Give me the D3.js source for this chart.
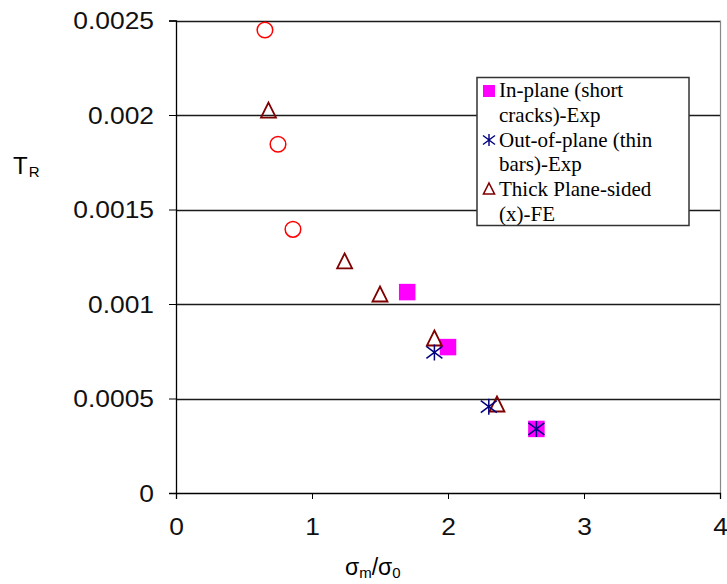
<!DOCTYPE html>
<html><head><meta charset="utf-8">
<script src="https://cdn.jsdelivr.net/npm/d3@7"></script>
<style>body{margin:0;background:#fff}</style>
</head><body>
<svg id="c" width="727" height="584"></svg>
<script>
// Data
const xTicks = [0, 1, 2, 3, 4];
const yTicks = [0, 0.0005, 0.001, 0.0015, 0.002, 0.0025];
const yTickLabels = ["0", "0.0005", "0.001", "0.0015", "0.002", "0.0025"];
const circleX = [0.654, 0.75, 0.86];
const circleY = [0.00245, 0.001845, 0.001395];
const triX = [0.68, 1.24, 1.50, 1.90, 2.36];
const triY = [0.002026, 0.001228, 0.001053, 0.00082, 0.000471];
const squareX = [1.70, 2.00, 2.65];
const squareY = [0.001063, 0.000772, 0.000339];
const starX = [1.90, 2.30, 2.65];
const starY = [0.000744, 0.000457, 0.000339];
const legendLabels = [
  ["In-plane (short", "cracks)-Exp"],
  ["Out-of-plane (thin", "bars)-Exp"],
  ["Thick Plane-sided", "(x)-FE"]
];

const svg = d3.select("#c");
const x = d3.scaleLinear().domain([0, 4]).range([176, 720]);
const y = d3.scaleLinear().domain([0, 0.0025]).range([493, 20.5]);

// gridlines
svg.append("g").selectAll("line").data(yTicks.slice(1)).join("line")
  .attr("x1", x(0)).attr("x2", x(4))
  .attr("y1", d => Math.round(y(d)) + 0.5).attr("y2", d => Math.round(y(d)) + 0.5)
  .attr("stroke", "#1a1a1a").attr("stroke-width", 1.3);
// right border
svg.append("line").attr("x1", x(4) + 0.5).attr("x2", x(4) + 0.5).attr("y1", y(0.0025)).attr("y2", y(0))
  .attr("stroke", "#888").attr("stroke-width", 1.2);

const fontAxis = "'Liberation Sans', Arial, sans-serif";
const sx = 1.1;

// x axis
const gx = svg.append("g").attr("transform", `translate(0,${y(0)})`)
  .call(d3.axisBottom(x).tickValues(xTicks).tickFormat(d3.format("d")).tickSizeOuter(0).tickSize(6));
gx.select(".domain").attr("stroke", "#000").attr("stroke-width", 1.3);
gx.selectAll(".tick line").attr("stroke", "#000");
gx.selectAll(".tick text").attr("font-family", fontAxis).attr("font-size", 24).attr("fill", "#111")
  .attr("y", 0).attr("dy", 0).attr("transform", `translate(0,42) scale(${sx},1)`);

// y axis
const gy = svg.append("g").attr("transform", `translate(${x(0)},0)`)
  .call(d3.axisLeft(y).tickValues(yTicks).tickFormat((d, i) => yTickLabels[i]).tickSizeOuter(0).tickSize(7));
gy.select(".domain").attr("stroke", "#000").attr("stroke-width", 1.3);
gy.selectAll(".tick line").attr("stroke", "#000");
gy.selectAll(".tick text").attr("font-family", fontAxis).attr("font-size", 24).attr("fill", "#111")
  .attr("x", -22 / sx).attr("dy", "0.35em").attr("transform", `scale(${sx},1)`);

// axis titles
const xt = svg.append("text").attr("x", 345).attr("y", 575).attr("font-family", fontAxis)
  .attr("font-size", 23).attr("fill", "#000");
xt.append("tspan").text("σ");
xt.append("tspan").text("m").attr("font-size", 15).attr("dy", 3);
xt.append("tspan").text("/σ").attr("dy", -3);
xt.append("tspan").text("0").attr("font-size", 15).attr("dy", 3);

const yt = svg.append("text").attr("x", 13).attr("y", 174).attr("font-family", fontAxis)
  .attr("font-size", 24).attr("fill", "#000");
yt.append("tspan").text("T");
yt.append("tspan").text("R").attr("font-size", 15).attr("dy", 3).attr("dx", 1);

// marker drawing
const starSym = {
  draw(ctx, size) {
    const r = Math.sqrt(size) / 2;
    ctx.moveTo(0, -r); ctx.lineTo(0, r);
    ctx.moveTo(-r, -r * 0.75); ctx.lineTo(r, r * 0.75);
    ctx.moveTo(-r, r * 0.75); ctx.lineTo(r, -r * 0.75);
  }
};
const triSym = {
  draw(ctx, size) {
    const r = Math.sqrt(size) / 2;
    ctx.moveTo(0, -r); ctx.lineTo(r, r); ctx.lineTo(-r, r); ctx.closePath();
  }
};

const circData = circleX.map((v, i) => [v, circleY[i]]);
const triData = triX.map((v, i) => [v, triY[i]]);
const sqData = squareX.map((v, i) => [v, squareY[i]]);
const starData = starX.map((v, i) => [v, starY[i]]);

svg.append("g").selectAll("circle").data(circData).join("circle")
  .attr("cx", d => x(d[0])).attr("cy", d => y(d[1])).attr("r", 7.8)
  .attr("fill", "none").attr("stroke", "#FF0000").attr("stroke-width", 1.5);

svg.append("g").selectAll("path").data(sqData).join("path")
  .attr("transform", d => `translate(${x(d[0])},${y(d[1])})`)
  .attr("d", d3.symbol().type(d3.symbolSquare).size(16.5 * 16.5))
  .attr("fill", "#FF00FF");

svg.append("g").selectAll("path").data(triData).join("path")
  .attr("transform", d => `translate(${x(d[0])},${y(d[1])})`)
  .attr("d", d3.symbol().type(triSym).size(15 * 15))
  .attr("fill", "none").attr("stroke", "#800000").attr("stroke-width", 1.8);

svg.append("g").selectAll("path").data(starData).join("path")
  .attr("transform", d => `translate(${x(d[0])},${y(d[1])})`)
  .attr("d", d3.symbol().type(starSym).size(16 * 16))
  .attr("fill", "none").attr("stroke", "#000080").attr("stroke-width", 1.5);

// legend
const lg = svg.append("g");
lg.append("rect").attr("x", 477).attr("y", 77.5).attr("width", 212).attr("height", 148)
  .attr("fill", "#fff").attr("stroke", "#333").attr("stroke-width", 1.5);
const baselines = [96.7, 121.5, 146.5, 171, 196, 220.5];
legendLabels.forEach((lines, i) => {
  lines.forEach((t, j) => {
    lg.append("text").attr("x", 499).attr("y", baselines[i * 2 + j])
      .attr("font-family", "'Liberation Serif', 'Times New Roman', serif").attr("font-size", 21)
      .attr("fill", "#000").text(t);
  });
});
lg.append("rect").attr("x", 483).attr("y", 85).attr("width", 12).attr("height", 12).attr("fill", "#FF00FF");
lg.append("path").attr("transform", "translate(489,140)")
  .attr("d", d3.symbol().type(starSym).size(12 * 12))
  .attr("fill", "none").attr("stroke", "#000080").attr("stroke-width", 1.4);
lg.append("path").attr("transform", "translate(489,188.5)")
  .attr("d", d3.symbol().type(triSym).size(11 * 11))
  .attr("fill", "none").attr("stroke", "#800000").attr("stroke-width", 1.6);
</script>
</body></html>
